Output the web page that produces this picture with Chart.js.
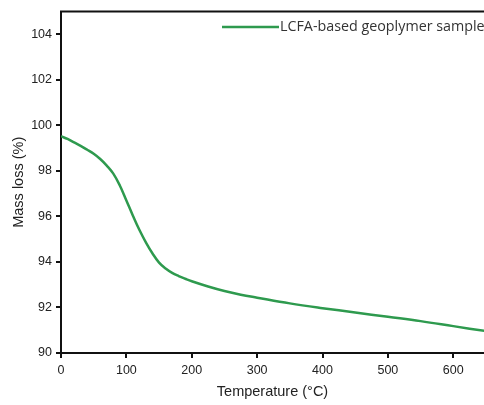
<!DOCTYPE html>
<html>
<head>
<meta charset="utf-8">
<script src="https://cdn.jsdelivr.net/npm/chart.js@4/dist/chart.umd.min.js"></script>
<style>
  html, body { margin: 0; padding: 0; background: #fff; }
  #wrap { width: 484px; height: 405px; }
</style>
</head>
<body>
<div id="wrap"><canvas id="tga"></canvas></div>
<script>
// Thermogravimetric curve of the geopolymer sample
const temperatures = [0, 10, 20, 30, 40, 50, 60, 70, 80, 90, 100, 110, 120, 130, 140, 150, 160, 170, 180, 190, 200, 225, 250, 275, 300, 350, 400, 450, 500, 550, 600, 650];
const massLoss = [99.52, 99.40, 99.25, 99.10, 98.93, 98.75, 98.52, 98.23, 97.88, 97.36, 96.70, 96.03, 95.40, 94.85, 94.37, 93.97, 93.71, 93.52, 93.38, 93.26, 93.15, 92.92, 92.72, 92.56, 92.43, 92.18, 91.97, 91.78, 91.59, 91.40, 91.18, 90.96];
const seriesName = 'LCFA-based geoplymer sample';
const xTitle = 'Temperature (°C)';
const yTitle = 'Mass loss (%)';

const points = temperatures.map((t, i) => ({ x: t, y: massLoss[i] }));

// Top frame line and in-plot legend
const framePlugin = {
  id: 'frame',
  afterDraw(chart) {
    const { ctx, chartArea } = chart;
    ctx.save();
    ctx.strokeStyle = '#111';
    ctx.lineWidth = 2;
    ctx.beginPath();
    ctx.moveTo(chartArea.left - 1, chartArea.top);
    ctx.lineTo(chartArea.right, chartArea.top);
    ctx.stroke();

    const ds = chart.data.datasets[0];
    const ly = 27;
    ctx.strokeStyle = ds.borderColor;
    ctx.lineWidth = 2.5;
    ctx.beginPath();
    ctx.moveTo(222, ly);
    ctx.lineTo(279, ly);
    ctx.stroke();
    ctx.fillStyle = '#333';
    ctx.font = '14.3px "Open Sans", "Liberation Sans", sans-serif';
    ctx.textBaseline = 'middle';
    ctx.fillText(ds.label, 280, ly);
    ctx.restore();
  }
};

new Chart(document.getElementById('tga'), {
  type: 'line',
  data: {
    datasets: [{
      label: seriesName,
      data: points,
      borderColor: '#2e9a4e',
      borderWidth: 2.5,
      pointRadius: 0,
      tension: 0.4,
      fill: false
    }]
  },
  options: {
    responsive: true,
    maintainAspectRatio: false,
    animation: false,
    layout: { padding: { top: 7, right: 0, left: 0, bottom: 0 } },
    plugins: { legend: { display: false }, tooltip: { enabled: false } },
    scales: {
      x: {
        type: 'linear',
        min: 0,
        max: 647,
        afterFit(scale) { scale.height = 52; },
        ticks: { stepSize: 100, includeBounds: false, color: '#222', padding: 5,
                 font: { family: '"Liberation Sans", Arial, sans-serif', size: 12.5 } },
        grid: { display: true, drawOnChartArea: false, drawTicks: true, tickLength: 5, color: '#111', lineWidth: 2 },
        border: { display: true, color: '#111', width: 2 },
        title: { display: true, text: xTitle, color: '#222', padding: { top: 5 },
                 font: { family: '"Liberation Sans", Arial, sans-serif', size: 14.5 } }
      },
      y: {
        min: 90,
        max: 105,
        afterFit(scale) { scale.width = 61; },
        ticks: { stepSize: 2, includeBounds: false, color: '#222', padding: 4,
                 font: { family: '"Liberation Sans", Arial, sans-serif', size: 12.5 } },
        grid: { display: true, drawOnChartArea: false, drawTicks: true, tickLength: 5, color: '#111', lineWidth: 2 },
        border: { display: true, color: '#111', width: 2 },
        title: { display: true, text: yTitle, color: '#222', padding: { top: 10, bottom: 0 },
                 font: { family: '"Liberation Sans", Arial, sans-serif', size: 14.5 } }
      }
    }
  },
  plugins: [framePlugin]
});
</script>
</body>
</html>
